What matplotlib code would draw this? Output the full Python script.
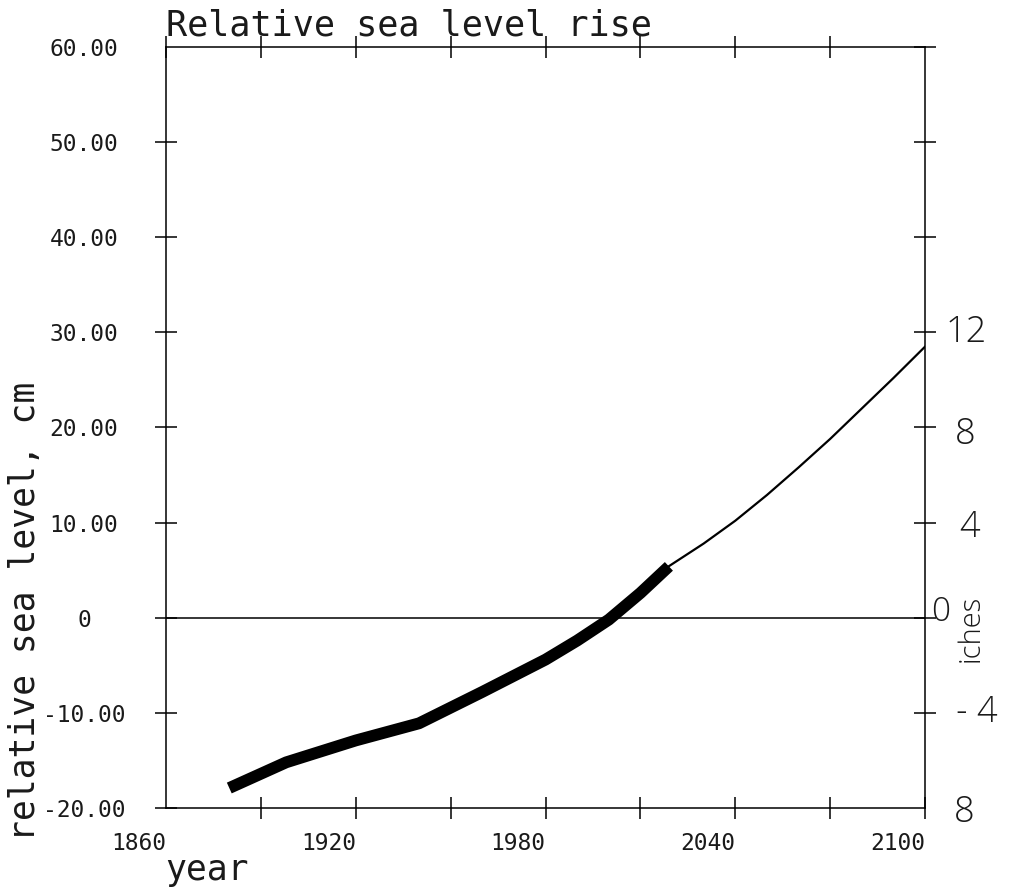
import matplotlib
matplotlib.use("Agg")
import matplotlib.pyplot as plt
import matplotlib.transforms as mtransforms

# Observed (thick) and projected (thin) relative sea level, cm
OBS_YEAR = [1880, 1898, 1920, 1940, 1960, 1980, 1990, 2000, 2010, 2019]
OBS_CM = [-17.9, -15.2, -12.9, -11.1, -7.8, -4.4, -2.4, -0.2, 2.6, 5.4]

PROJ_YEAR = [2018, 2030, 2040, 2050, 2060, 2070, 2080, 2090, 2100]
PROJ_CM = [5.2, 7.8, 10.2, 12.9, 15.8, 18.8, 22.0, 25.2, 28.5]

X_TICKS = [1860, 1890, 1920, 1950, 1980, 2010, 2040, 2070, 2100]
X_LABELS = ["1860", "", "1920", "", "1980", "", "2040", "", "2100"]
Y_TICKS = [-20, -10, 0, 10, 20, 30, 40, 50, 60]
Y_LABELS = ["-20.00", "-10.00", "0", "10.00", "20.00", "30.00",
            "40.00", "50.00", "60.00"]

# handwritten inch scale on the right (label, where it sits in cm)
INCH_LABELS = ["12", "8", "4", "0", "- 4", "8"]
INCH_POS = [30.0, 19.3, 9.5, 0.6, -10.0, -20.5]
INCH_X = [1.054, 1.053, 1.058, 1.020, 1.0685, 1.051]

MONO = "DejaVu Sans Mono"
INK = "#1a1a1a"

fig = plt.figure(figsize=(10.13, 8.93), dpi=100)
ax = fig.add_axes([0.1639, 0.0952, 0.7493, 0.8522])

ax.plot(OBS_YEAR, OBS_CM, color="black", lw=8.5, solid_capstyle="butt",
        solid_joinstyle="round")
ax.plot(PROJ_YEAR, PROJ_CM, color="black", lw=1.6)
ax.axhline(0, color="black", lw=1.1)

ax.set_xlim(1860, 2100)
ax.set_ylim(-20, 60)

for s in ax.spines.values():
    s.set_linewidth(1.1)

ax.set_xticks(X_TICKS)
ax.set_xticklabels(X_LABELS, fontfamily=MONO, fontsize=16.5, ha="right",
                   color=INK)
ax.set_yticks(Y_TICKS)
ax.set_yticklabels(Y_LABELS, fontfamily=MONO, fontsize=16.5, ha="center",
                   color=INK)
ax.tick_params(direction="inout", length=16, width=1.1,
               top=True, right=True)
ax.tick_params(axis="x", pad=9)
ax.tick_params(axis="y", pad=51)

# corner ticks absent in the original
xt = ax.xaxis.get_major_ticks()
yt = ax.yaxis.get_major_ticks()
xt[0].tick1line.set_visible(False)
xt[-1].tick2line.set_visible(False)
yt[-1].tick1line.set_visible(False)
yt[0].tick2line.set_visible(False)

fig.text(166 / 1013, 1 - 36 / 893, "Relative sea level rise", fontfamily=MONO,
         fontsize=25.3, ha="left", va="baseline", color=INK)
fig.text(165 / 1013, 1 - 880 / 893, "year", fontfamily=MONO,
         fontsize=25, ha="left", va="baseline", color=INK)
fig.text(25 / 1013, 1 - 611 / 893, "relative sea level, cm", fontfamily=MONO,
         fontsize=25, rotation=90, ha="center", va="center", color=INK)

# handwritten inch annotations
trans = mtransforms.blended_transform_factory(ax.transAxes, ax.transData)
for xa, cm, lab in zip(INCH_X, INCH_POS, INCH_LABELS):
    ax.text(xa, cm, lab, transform=trans, fontsize=24 if lab == "0" else 26,
            fontfamily="Open Sans", fontweight="light", ha="center",
            va="center", clip_on=False, color=INK)
ax.text(1.0605, -1.1, "iches", transform=trans, fontsize=21,
        fontfamily="Open Sans", fontweight="light", rotation=90,
        ha="center", va="center", clip_on=False, color=INK)

fig.savefig("out.png", dpi=100, facecolor="white")
